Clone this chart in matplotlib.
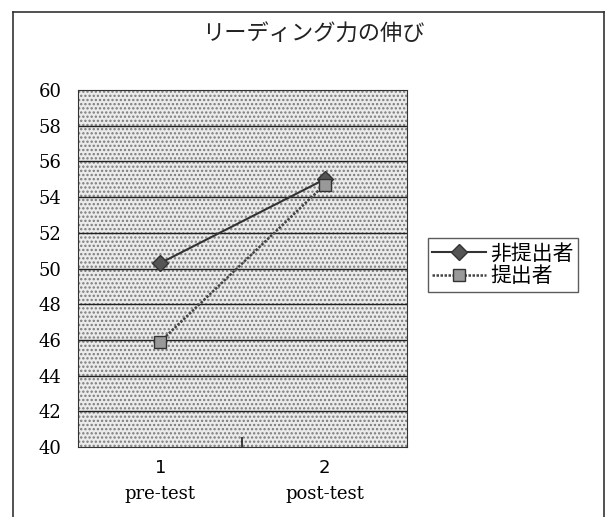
import matplotlib.pyplot as plt
from matplotlib.lines import Line2D
from matplotlib.patches import Rectangle

plt.rcParams['font.family'] = ['Noto Sans CJK JP', 'DejaVu Sans']
plt.rcParams['hatch.linewidth'] = 1.1

# reading scores, pre-test / post-test
tests = [1, 2]
test_names = ['pre-test', 'post-test']
non_submit = [50.3, 55.0]
submit = [45.9, 54.7]
yticks = list(range(40, 61, 2))

fig = plt.figure(figsize=(6.07, 5.17), dpi=100)
ax = fig.add_axes([0.1285, 0.1354, 0.542, 0.6905])

# dotted background
ax.set_facecolor('#ebebeb')
ax.add_patch(Rectangle((0, 0), 1, 1, transform=ax.transAxes, facecolor='none',
                       edgecolor='#7a7a7a', lw=0, hatch='....', zorder=0.5))

for y in yticks[1:-1]:
    ax.axhline(y, color='#222222', lw=1.0, zorder=1)

ax.plot(tests, non_submit, color='#333333', lw=1.5, marker='D', ms=8,
        mfc='#555555', mec='#333333', label='非提出者', zorder=3)
ax.plot(tests, submit, color='#444444', lw=1.8, ls=(0, (1, 0.6)), marker='s', ms=9,
        mfc='#999999', mec='#333333', label='提出者', zorder=3)

ax.set_xlim(0.5, 2.5)
ax.set_ylim(40, 60)
ax.set_yticks(yticks)
ax.set_yticklabels([str(v) for v in yticks], family='DejaVu Serif', fontsize=13)
ax.set_xticks([1.5])
ax.set_xticklabels([''])
ax.tick_params(axis='x', length=7, width=1.2, direction='in', color='#222222')
ax.tick_params(axis='y', length=0, pad=12)
for s in ax.spines.values():
    s.set_linestyle((0, (1, 1)))
    s.set_color('#333333')

for x, name in zip(tests, test_names):
    ax.text(x, 38.8, str(x), ha='center', va='center', fontsize=13,
            family='DejaVu Sans')
    ax.text(x, 37.35, name, ha='center', va='center', fontsize=13,
            family='DejaVu Serif')

fig.text(0.517, 0.933, 'リーディング力の伸び', ha='center', va='center', fontsize=16,
         color='#222222')

leg = ax.legend(loc='center left', bbox_to_anchor=(1.064, 0.51), fontsize=15,
                frameon=True, fancybox=False, edgecolor='#333333',
                handlelength=2.6, borderpad=0.2, labelspacing=0.05,
                handletextpad=0.2, borderaxespad=0)
leg.get_frame().set_linewidth(1.0)

# outer chart frame
fig.add_artist(Line2D([0.0215, 0.0215], [0.0, 0.977], color='#333333', lw=1.2))
fig.add_artist(Line2D([0.0215, 0.995], [0.977, 0.977], color='#333333', lw=1.2))
fig.add_artist(Line2D([0.995, 0.995], [0.0, 0.977], color='#333333', lw=1.2))

fig.savefig('out.png', dpi=100)
